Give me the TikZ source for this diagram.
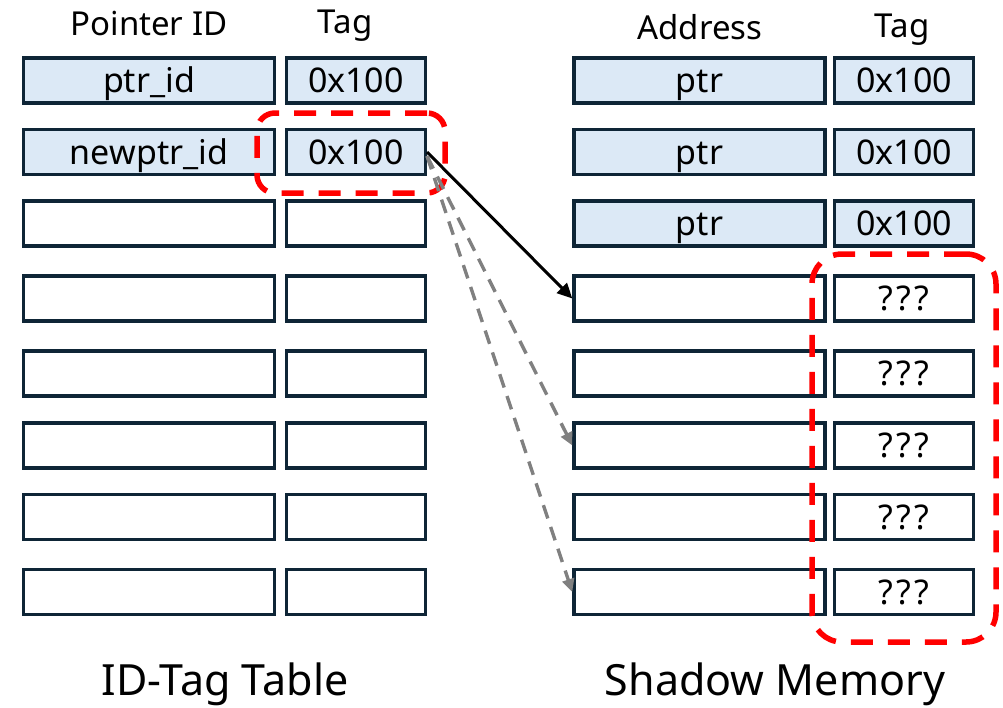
\documentclass[tikz,border=0pt]{standalone}
\usepackage{fontspec}
\setmainfont{Noto Sans}
\usetikzlibrary{arrows.meta}
\definecolor{cellline}{HTML}{0E2536}
\definecolor{cellfill}{HTML}{DCE9F6}
\definecolor{hlred}{HTML}{FF0000}
\definecolor{ptrgray}{HTML}{808080}
\newcommand{\unknowntag}{?\kern3pt?\kern3pt?}
\tikzset{
  cell/.style={draw=cellline, line width=3.4pt, fill=white, minimum height=45pt,
    inner sep=0pt, text height=24pt, text depth=0pt, font=\fontsize{34}{34}\selectfont},
  used/.style={cell, fill=cellfill},
  widecell/.style={minimum width=251pt},
  tagcell/.style={minimum width=138.6pt},
  header/.style={font=\fontsize{33}{33}\selectfont, anchor=base},
  caption/.style={font=\fontsize{43}{43}\selectfont, anchor=base},
  redhl/.style={draw=hlred, line width=5.5pt, dash pattern=on 22pt off 15pt, inner sep=0pt},
  solidptr/.style={draw=black, line width=3pt, -{Triangle[length=15pt,width=14pt]}},
  dashptr/.style={draw=ptrgray, line width=3.4pt, dash pattern=on 14pt off 9pt,
    -{Triangle[length=13pt,width=12pt]}}
}
\begin{document}
\begin{tikzpicture}[x=1pt, y=-1pt]
  \useasboundingbox (0,0) rectangle (1003,707);

  % column headers
  \node[header] (hpid) at (149,35) {Pointer ID};
  \node[header] (htagl) at (345,33) {Tag};
  \node[header] (haddr) at (700,39) {Address};
  \node[header] (htagr) at (902,37) {Tag};

  % ID-Tag table
  \node[used, widecell] (la1) at (149,80.5) {ptr\_id};
  \node[used, tagcell]  (lt1) at (356,80.5) {0x100};
  \node[used, widecell] (la2) at (149,152) {newptr\_id};
  \node[used, tagcell]  (lt2) at (356,152) {0x100};
  \foreach \i/\yy in {3/223.5, 4/298.5, 5/373.5, 6/445.5, 7/517, 8/592} {
    \node[cell, widecell] (la\i) at (149,\yy) {};
    \node[cell, tagcell]  (lt\i) at (356,\yy) {};
  }

  % shadow memory
  \foreach \i/\yy in {1/80.5, 2/152, 3/223.5} {
    \node[used, widecell] (ra\i) at (699.5,\yy) {ptr};
    \node[used, tagcell]  (rt\i) at (904,\yy) {0x100};
  }
  \foreach \i/\yy in {4/298.5, 5/373.5, 6/445.5, 7/517, 8/592} {
    \node[cell, widecell] (ra\i) at (699.5,\yy) {};
    \node[cell, tagcell]  (rt\i) at (904,\yy) {\unknowntag};
  }

  % highlighted regions
  \node[redhl, rounded corners=18pt, minimum width=188pt, minimum height=80pt] (hlnew) at (351,153) {};
  \node[redhl, rounded corners=30pt, minimum width=184pt, minimum height=388pt] (hlunk) at (904,448) {};

  % pointer lookups
  \draw[solidptr] (lt2.east) -- (ra4.west);
  \draw[dashptr] ([yshift=-4pt]lt2.east) -- (ra6.west);
  \draw[dashptr] ([yshift=-4pt]lt2.east) -- (ra8.west);

  % table captions
  \node[caption] (capl) at (225,695) {ID-Tag Table};
  \node[caption] (capr) at (775,695) {Shadow Memory};
\end{tikzpicture}
\end{document}
